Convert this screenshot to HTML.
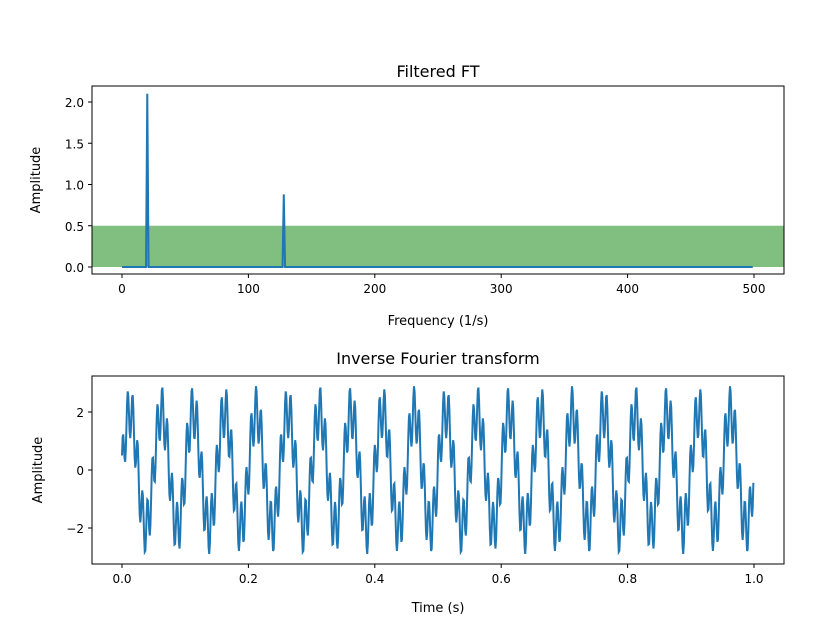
<!DOCTYPE html>
<html><head><meta charset="utf-8"><style>
body{margin:0;background:#fff}
svg{display:block;font-family:"DejaVu Sans","Liberation Sans",sans-serif}
</style></head><body>
<svg id="c" width="827" height="642"></svg>
<script>
const specFreqs=[20,128];
const specAmps=[2.1,0.88];
const sigAmps=[2.0,0.9];
const sigPhases=[0,0.59];
const filterBand=[0,0.5];
const topXTicks=[0,100,200,300,400,500];
const topYTicks=[0,0.5,1.0,1.5,2.0];
const botXTicks=[0,0.2,0.4,0.6,0.8,1.0];
const botYTicks=[-2,0,2];
const NS="http://www.w3.org/2000/svg";
const svg=document.getElementById('c');
function el(t,a,p){const e=document.createElementNS(NS,t);for(const k in a)e.setAttribute(k,a[k]);(p||svg).appendChild(e);return e;}
const tx=v=>122+v*1.264, ty=v=>267-v*82.5;
const bx=v=>122+v*632, by=v=>470-v*29;
// top
let g=el('g',{});
let r=el('rect',{x:tx(-23.7),y:ty(filterBand[1]),width:784-tx(-23.7),height:ty(filterBand[0])-ty(filterBand[1]),fill:'#80bf80'},g);

let pts=[];for(let f=0;f<500;f++){let a=0;specFreqs.forEach((sf,i)=>{if(f===sf)a=specAmps[i];});pts.push(tx(f)+','+ty(a));}
let p=el('polyline',{points:pts.join(' '),fill:'none',stroke:'#1f77b4','stroke-width':2},g);

el('rect',{x:92,y:86,width:692,height:188,fill:'none',stroke:'#000','stroke-width':1},g);
topXTicks.forEach(v=>{el('line',{x1:tx(v),x2:tx(v),y1:274,y2:278,stroke:'#000'},g);let t=el('text',{x:tx(v),y:293,'font-size':12,'text-anchor':'middle'},g);t.textContent=v;});
topYTicks.forEach(v=>{el('line',{x1:88,x2:92,y1:ty(v),y2:ty(v),stroke:'#000'},g);let t=el('text',{x:84,y:ty(v)+5,'font-size':12,'text-anchor':'end'},g);t.textContent=v.toFixed(1);});
let t1=el('text',{x:438,y:77,'font-size':16,'text-anchor':'middle'},g);t1.textContent='Filtered FT';
let t2=el('text',{x:438,y:325,'font-size':13,'text-anchor':'middle'},g);t2.textContent='Frequency (1/s)';
let t3=el('text',{x:0,y:0,'font-size':13,'text-anchor':'middle',transform:'translate(40,180) rotate(-90)'},g);t3.textContent='Amplitude';
// bottom
let g2=el('g',{});
pts=[];for(let i=0;i<1000;i++){const t=i/1000;let v=0;specFreqs.forEach((f,k)=>{v+=sigAmps[k]*Math.sin(2*Math.PI*f*t+sigPhases[k]);});pts.push(bx(t)+','+by(v));}
p=el('polyline',{points:pts.join(' '),fill:'none',stroke:'#1f77b4','stroke-width':2},g2);

el('rect',{x:92,y:376,width:692,height:188,fill:'none',stroke:'#000','stroke-width':1},g2);
botXTicks.forEach(v=>{el('line',{x1:bx(v),x2:bx(v),y1:564,y2:568,stroke:'#000'},g2);let t=el('text',{x:bx(v),y:583,'font-size':12,'text-anchor':'middle'},g2);t.textContent=v.toFixed(1);});
botYTicks.forEach(v=>{el('line',{x1:88,x2:92,y1:by(v),y2:by(v),stroke:'#000'},g2);let t=el('text',{x:84,y:by(v)+5,'font-size':12,'text-anchor':'end'},g2);t.textContent=v<0?'\u2212'+(-v):v;});
t1=el('text',{x:438,y:364,'font-size':16,'text-anchor':'middle'},g2);t1.textContent='Inverse Fourier transform';
t2=el('text',{x:438,y:612,'font-size':13,'text-anchor':'middle'},g2);t2.textContent='Time (s)';
t3=el('text',{x:0,y:0,'font-size':13,'text-anchor':'middle',transform:'translate(42,470) rotate(-90)'},g2);t3.textContent='Amplitude';
</script>
</body></html>
